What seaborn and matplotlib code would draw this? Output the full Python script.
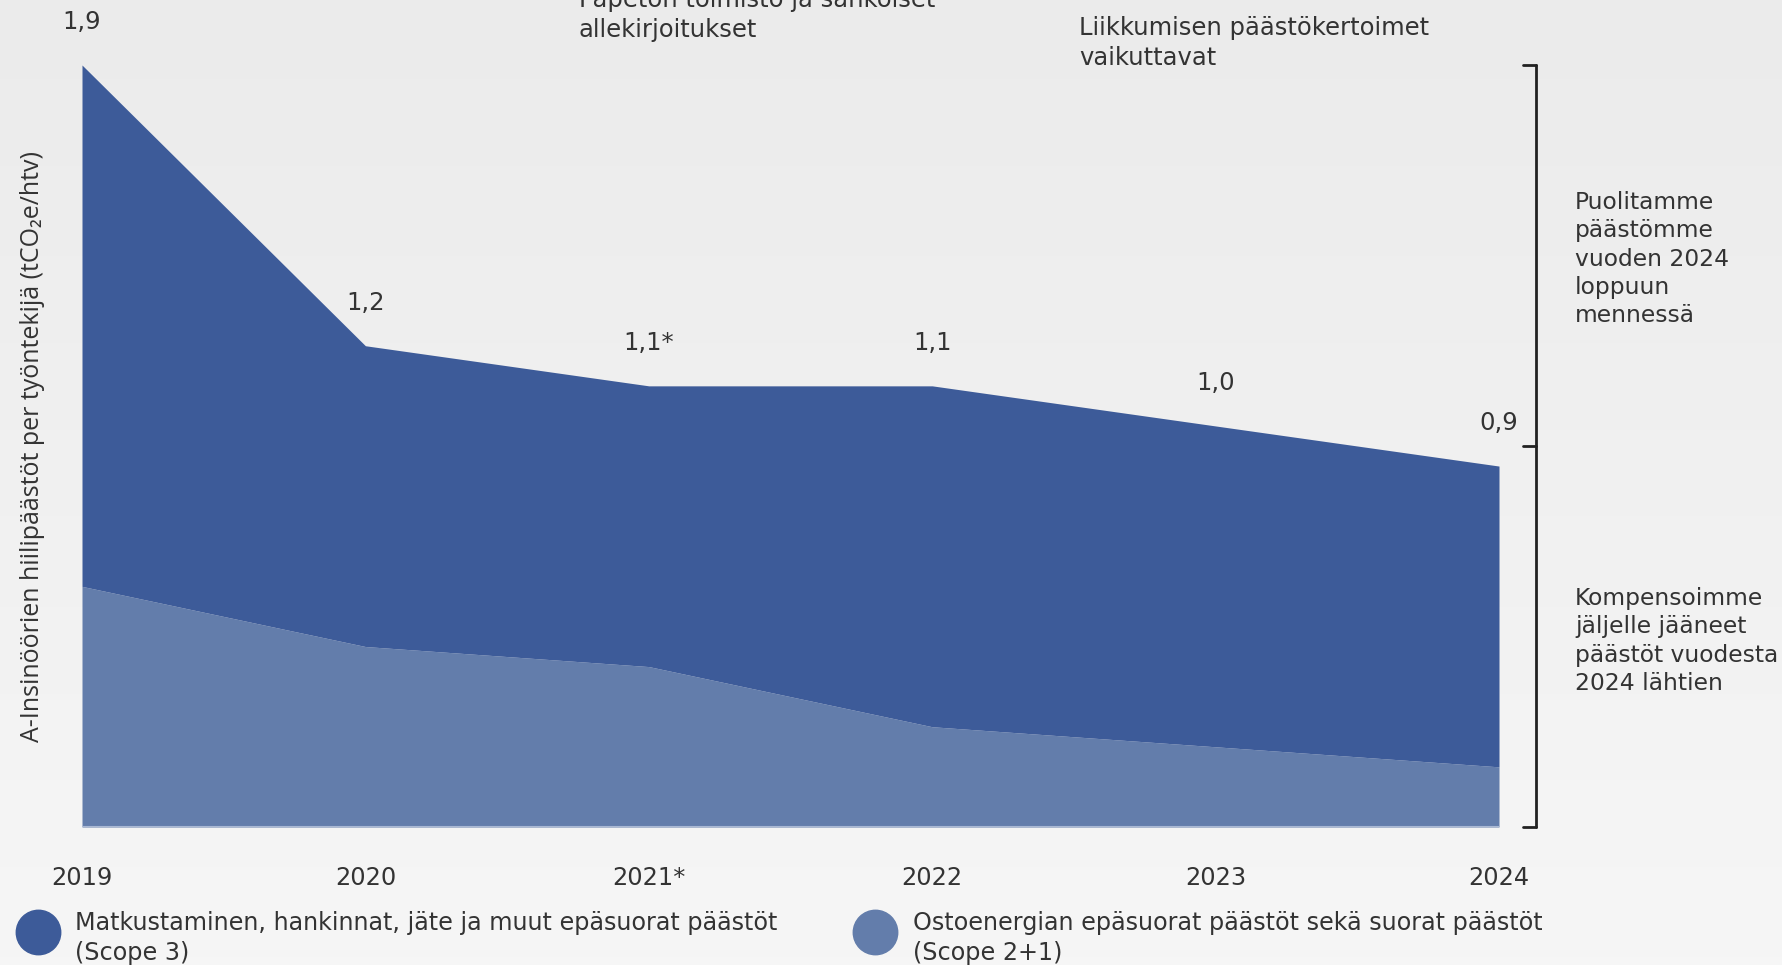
import numpy as np
import matplotlib
matplotlib.use("Agg")
import matplotlib.pyplot as plt
from matplotlib.lines import Line2D
import seaborn as sns

# ---- data ----
years = [2019, 2020, 2021, 2022, 2023, 2024]
year_labels = ["2019", "2020", "2021*", "2022", "2023", "2024"]
scope21 = [0.60, 0.45, 0.40, 0.25, 0.20, 0.15]          # Ostoenergia + suorat
scope3 = [1.30, 0.75, 0.70, 0.85, 0.80, 0.75]           # Matkustaminen ym.
total_labels = ["1,9", "1,2", "1,1*", "1,1", "1,0", "0,9"]
legend_labels = [
    "Matkustaminen, hankinnat, jäte ja muut epäsuorat päästöt\n(Scope 3)",
    "Ostoenergian epäsuorat päästöt sekä suorat päästöt\n(Scope 2+1)",
]
ylabel = "A-Insinöörien hiilipäästöt per työntekijä (tCO₂e/htv)"

c_dark = "#3d5b99"
c_light = "#637dab"
txt = "#333333"

sns.set_theme(style="white")
plt.rcParams["font.family"] = ["DejaVu Sans"]

W, H = 1783, 965
fig = plt.figure(figsize=(W / 100, H / 100), dpi=100)

# background gradient
bg = fig.add_axes([0, 0, 1, 1], zorder=-10)
grad = np.linspace(0, 1, 256).reshape(-1, 1)
col_top = np.array([0.922, 0.922, 0.922])
col_bot = np.array([0.965, 0.965, 0.965])
img = col_top + (col_bot - col_top) * grad[..., None]
img = np.repeat(img, 4, axis=1)
bg.imshow(img, aspect="auto", extent=[0, 1, 0, 1])
bg.axis("off")

def fx(px):
    return px / W

def fy(py):
    return 1 - py / H

ax = fig.add_axes([fx(82), fy(827), fx(1499) - fx(82), fy(65) - fy(827)])
ax.set_facecolor("none")

x = np.array(years)
low = np.array(scope21)
top = low + np.array(scope3)
ax.fill_between(x, 0, low, color=c_light, linewidth=0)
ax.fill_between(x, low, top, color=c_dark, linewidth=0)
ax.axhline(0, color="#a9b8d4", linewidth=1.5, zorder=3)

ax.set_xlim(2019, 2024)
ax.set_ylim(0, 1.9)
ax.set_yticks([])
ax.set_xticks(years)
ax.set_xticklabels(year_labels, fontsize=17.3, color=txt)
ax.tick_params(axis="x", length=0, pad=28)
for s in ax.spines.values():
    s.set_visible(False)

for xi, yi, lab in zip(x, top, total_labels):
    ax.annotate(lab, (xi, yi), xytext=(0, 31), textcoords="offset points",
                ha="center", va="center", fontsize=17.5, color=txt,
                annotation_clip=False)

# y label
fig.text(fx(33), fy(447), ylabel, rotation=90, ha="center", va="center",
         fontsize=18, color=txt, family=["Open Sans", "DejaVu Sans"])

# bracket on the right
bx = (1536 - 82) / (1499 - 82)
tick = 13 / (1499 - 82)
trans = ax.transAxes
ax.plot([bx, bx], [0, 1], color="#222222", lw=2, transform=trans, clip_on=False)
for yy in [0, 0.5, 1]:
    ax.plot([bx - tick, bx], [yy, yy], color="#222222", lw=2,
            transform=trans, clip_on=False)

# annotations on top
fig.text(fx(579), fy(15), "Papeton toimisto ja sähköiset\nallekirjoitukset",
         ha="left", va="center", fontsize=17.5, color=txt, linespacing=1.36)
fig.text(fx(1079), fy(43), "Liikkumisen päästökertoimet\nvaikuttavat",
         ha="left", va="center", fontsize=17.5, color=txt, linespacing=1.36)

# right side texts
fig.text(fx(1575), fy(259), "Puolitamme\npäästömme\nvuoden 2024\nloppuun\nmennessä",
         ha="left", va="center", fontsize=16.8, color=txt, linespacing=1.3)
fig.text(fx(1575), fy(641), "Kompensoimme\njäljelle jääneet\npäästöt vuodesta\n2024 lähtien",
         ha="left", va="center", fontsize=16.8, color=txt, linespacing=1.3)

# legend
for cx, tx, col, lab in [(38, 75, c_dark, legend_labels[0]),
                         (875, 913, c_light, legend_labels[1])]:
    fig.add_artist(Line2D([fx(cx)], [fy(932)], marker="o", markersize=32,
                          color=col, linestyle="none", transform=fig.transFigure))
    fig.text(fx(tx), fy(938), lab, ha="left", va="center", fontsize=17.2,
             color=txt, linespacing=1.36)

fig.savefig("out.png", dpi=100)
